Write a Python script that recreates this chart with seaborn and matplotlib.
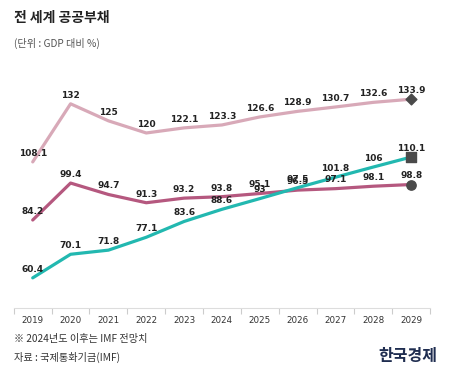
import matplotlib
matplotlib.use("Agg")
import matplotlib.pyplot as plt
import numpy as np
import pandas as pd
import seaborn as sns

years = ["2019", "2020", "2021", "2022", "2023", "2024", "2025", "2026", "2027", "2028", "2029"]
world = [108.1, 132, 125, 120, 122.1, 123.3, 126.6, 128.9, 130.7, 132.6, 133.9]
series_b = [84.2, 99.4, 94.7, 91.3, 93.2, 93.8, 95.1, 96.5, 97.1, 98.1, 98.8]
series_c = [60.4, 70.1, 71.8, 77.1, 83.6, 88.6, 93, 97.5, 101.8, 106, 110.1]

names = ["world", "b", "c"]
colors = {"world": "#d8a9b8", "b": "#b5587f", "c": "#22b8b0"}
end_markers = {"world": "D", "b": "o", "c": "s"}
values = {"world": world, "b": series_b, "c": series_c}

rows = []
for n in names:
    for i, v in enumerate(values[n]):
        rows.append({"x": i, "value": v, "series": n})
df = pd.DataFrame(rows)

sns.set_style("white")
plt.rcParams["font.family"] = ["Noto Sans CJK KR", "DejaVu Sans"]

fig = plt.figure(figsize=(4.6, 3.85), dpi=100)
ax = fig.add_axes([0.03, 0.2, 0.905, 0.644])

sns.lineplot(data=df, x="x", y="value", hue="series", palette=colors,
             linewidth=2.3, legend=False, ax=ax)

for n in names:
    vals = values[n]
    last = len(vals) - 1
    ax.scatter([last], [vals[last]], marker=end_markers[n], s=45 if n != "world" else 30,
               color="#4a4a4a", zorder=5)
    for i, v in enumerate(vals):
        ax.annotate(f"{v:g}", (i, v), xytext=(0, 3), textcoords="offset points",
                    ha="center", va="bottom", fontsize=6.5, color="#222222",
                    family="DejaVu Sans", fontweight="semibold", zorder=6)

ax.set_xlim(-0.5, 10.5)
ax.set_ylim(48, 150)
ax.set_xticks(range(len(years)))
ax.set_xticklabels(years, family="DejaVu Sans", fontsize=6.3, color="#333333")
ax.set_xticks(np.arange(-0.5, 11, 1), minor=True)
ax.tick_params(axis="x", which="major", length=0, pad=6)
ax.tick_params(axis="x", which="minor", length=4, color="#cccccc", width=0.8, bottom=True)
ax.set_yticks([])
ax.set_xlabel("")
ax.set_ylabel("")
for s in ["top", "left", "right"]:
    ax.spines[s].set_visible(False)
ax.spines["bottom"].set_color("#dddddd")
ax.spines["bottom"].set_linewidth(0.8)

fig.text(14 / 460, 1 - 18 / 385, "전 세계 공공부채", fontsize=10, fontweight="bold",
         color="#222222", va="center", ha="left")
fig.text(14 / 460, 1 - 43 / 385, "(단위 : GDP 대비 %)", fontsize=7.3,
         color="#555555", va="center", ha="left")
fig.text(14 / 460, 1 - 339 / 385, "※ 2024년도 이후는 IMF 전망치", fontsize=7.3,
         color="#333333", va="center", ha="left")
fig.text(14 / 460, 1 - 357 / 385, "자료 : 국제통화기금(IMF)", fontsize=7.3,
         color="#333333", va="center", ha="left")
fig.text(437 / 460, 1 - 356 / 385, "한국경제", fontsize=11.5, fontweight="bold",
         color="#1f2d50", va="center", ha="right")

fig.savefig("out.png", dpi=100, facecolor="white")
